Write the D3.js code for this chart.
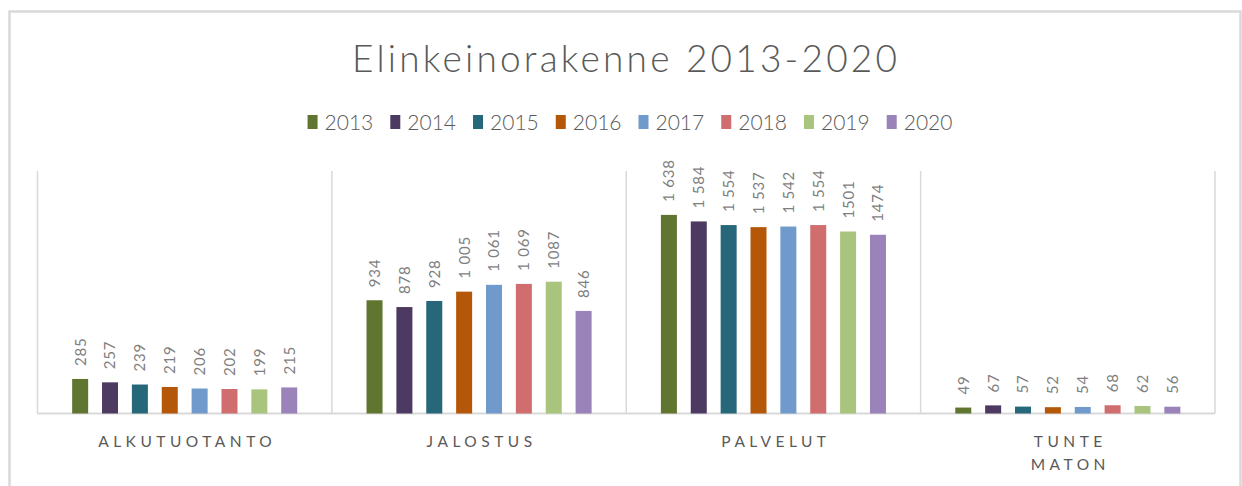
<!DOCTYPE html>
<html>
<head>
<meta charset="utf-8">
<script src="https://cdn.jsdelivr.net/npm/d3@7"></script>
<style>
  body { margin: 0; background: #fff; }
  text { font-family: Lato, "Open Sans", sans-serif; }
</style>
</head>
<body>
<div class="chart"></div>
<script>
// data
var categories = ["ALKUTUOTANTO", "JALOSTUS", "PALVELUT", "TUNTEMATON"];
var categoryLines = [["ALKUTUOTANTO"], ["JALOSTUS"], ["PALVELUT"], ["TUNTE", "MATON"]];
var years = ["2013", "2014", "2015", "2016", "2017", "2018", "2019", "2020"];
var v2013 = [285, 934, 1638, 49];
var v2014 = [257, 878, 1584, 67];
var v2015 = [239, 928, 1554, 57];
var v2016 = [219, 1005, 1537, 52];
var v2017 = [206, 1061, 1542, 54];
var v2018 = [202, 1069, 1554, 68];
var v2019 = [199, 1087, 1501, 62];
var v2020 = [215, 846, 1474, 56];
var plainYears = ["2019", "2020"]; // these labels have no thousands space
var colors = ["#5f7530", "#4d3a62", "#27677a", "#b55708", "#6f9acb", "#d06e6f", "#a9c47c", "#9983b8"];

var series = [v2013, v2014, v2015, v2016, v2017, v2018, v2019, v2020];

var width = 1242, height = 486;
var svg = d3.select(".chart").append("svg").attr("width", width).attr("height", height);

// chart frame
svg.append("rect").attr("x", 9.5).attr("y", 11.5).attr("width", 1231).attr("height", 500)
  .style("fill", "#fff").style("stroke", "#d9d9d9").style("stroke-width", 2.5);

// title
svg.append("text").attr("x", 624.5).attr("y", 72).attr("text-anchor", "middle")
  .attr("textLength", 545).attr("lengthAdjust", "spacing")
  .style("font-size", "37px").style("fill", "#595959").style("font-weight", 300)
  .text("Elinkeinorakenne 2013-2020");

var x0 = d3.scaleBand().domain(categories).range([37.5, 1215]);
var x1 = d3.scaleBand().domain(years).range([0, x0.bandwidth()]).paddingInner(0.464).paddingOuter(1.16);
var y = d3.scaleLinear().domain([0, 2000]).range([413.5, 171]);

// category gridlines
var bounds = categories.map(function(c){ return x0(c); }).concat([x0.range()[1]]);
svg.selectAll(".grid").data(bounds).enter().append("line").attr("class", "grid")
  .attr("x1", function(d){ return d; }).attr("x2", function(d){ return d; })
  .attr("y1", y(2000)).attr("y2", y(0))
  .style("stroke", "#d9d9d9").style("stroke-width", 1.5);

// baseline
svg.append("line").attr("x1", x0.range()[0]).attr("x2", x0.range()[1])
  .attr("y1", y(0)).attr("y2", y(0)).style("stroke", "#d9d9d9").style("stroke-width", 2);

var fmtSpace = function(v){ return d3.format(",")(v).replace(",", " "); };

var rows = [];
series.forEach(function(vals, si){
  vals.forEach(function(v, ci){
    rows.push({ year: years[si], cat: categories[ci], value: v, color: colors[si] });
  });
});

svg.selectAll(".bar").data(rows).enter().append("rect").attr("class", "bar")
  .attr("x", function(d){ return x0(d.cat) + x1(d.year); })
  .attr("width", x1.bandwidth())
  .attr("y", function(d){ return y(d.value); })
  .attr("height", function(d){ return y(0) - y(d.value); })
  .style("fill", function(d){ return d.color; });

svg.selectAll(".lbl").data(rows).enter().append("text").attr("class", "lbl")
  .attr("transform", function(d){
    var cx = x0(d.cat) + x1(d.year) + x1.bandwidth() / 2;
    return "translate(" + cx + "," + (y(d.value) - 13) + ") rotate(-90)";
  })
  .attr("dy", "0.36em")
  .style("font-size", "15px").style("fill", "#7f7f7f").style("letter-spacing", "0.8px")
  .text(function(d){ return plainYears.indexOf(d.year) >= 0 ? String(d.value) : fmtSpace(d.value); });

// category labels
categories.forEach(function(c, i){
  var cx = x0(c) + x0.bandwidth() / 2 + 2.5;
  var t = svg.append("text").attr("x", cx).attr("y", 447)
    .attr("text-anchor", "middle")
    .style("font-size", "15.5px").style("fill", "#595959").style("letter-spacing", "4.5px");
  categoryLines[i].forEach(function(line, li){
    t.append("tspan").attr("x", cx).attr("dy", li === 0 ? 0 : 23).text(line);
  });
});

// legend
var legend = svg.append("g");
var lx = 0;
years.forEach(function(yr, i){
  var g = legend.append("g").attr("transform", "translate(" + lx + ",0)");
  g.append("rect").attr("x", 0).attr("y", 115).attr("width", 10).attr("height", 14).style("fill", colors[i]);
  var t = g.append("text").attr("x", 17).attr("y", 130).style("font-size", "21px")
    .style("font-weight", 300).style("fill", "#595959").text(yr);
  lx += 17 + t.node().getComputedTextLength() + 17;
});
var lw = lx - 17;
legend.attr("transform", "translate(" + (630 - lw / 2) + ",0)");
</script>
</body>
</html>
